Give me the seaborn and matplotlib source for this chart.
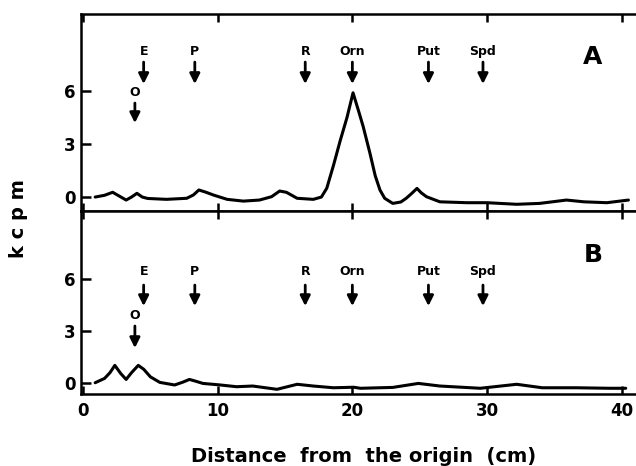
import matplotlib
matplotlib.use("Agg")
import matplotlib.pyplot as plt
import seaborn as sns

# Panel A: radioactivity trace (kcpm) vs distance from origin (cm)
dist_a = [0.9, 1.6, 2.2, 2.7, 3.2, 3.6, 4.0, 4.4, 4.8, 6.2, 7.7, 8.2, 8.6, 9.1, 9.7,
          10.7, 11.9, 13.1, 14.0, 14.6, 15.1, 15.5, 15.9, 17.1, 17.7, 18.1, 18.6,
          19.1, 19.6, 20.05, 20.45, 20.8, 21.3, 21.7, 22.05, 22.4, 23.0, 23.6, 24.0,
          24.4, 24.8, 25.1, 25.5, 26.5, 28.5, 30.0, 32.2, 33.9, 35.9, 37.2, 38.9, 40.5]
kcpm_a = [0.0, 0.1, 0.27, 0.05, -0.17, 0.0, 0.21, 0.0, -0.08, -0.13, -0.07, 0.12, 0.40,
          0.28, 0.11, -0.13, -0.23, -0.17, 0.02, 0.34, 0.27, 0.10, -0.07, -0.13, 0.0,
          0.5, 1.8, 3.2, 4.5, 5.9, 4.9, 4.0, 2.5, 1.2, 0.4, -0.07, -0.36, -0.28, -0.07,
          0.2, 0.49, 0.25, 0.02, -0.27, -0.32, -0.32, -0.41, -0.36, -0.17, -0.27, -0.32, -0.17]

# Panel B
dist_b = [0.9, 1.6, 2.0, 2.36, 2.8, 3.2, 3.6, 4.1, 4.5, 5.0, 5.7, 6.8, 7.4, 7.9, 8.4,
          8.9, 10.2, 11.4, 12.6, 14.4, 15.9, 17.1, 18.6, 20.1, 20.6, 23.0, 24.9, 26.5,
          29.5, 32.2, 34.1, 36.6, 39.1, 40.3]
kcpm_b = [0.02, 0.27, 0.6, 1.02, 0.55, 0.21, 0.6, 1.02, 0.8, 0.36, 0.04, -0.11, 0.05,
          0.21, 0.1, -0.02, -0.11, -0.21, -0.17, -0.36, -0.07, -0.17, -0.27, -0.24,
          -0.3, -0.25, -0.02, -0.17, -0.3, -0.07, -0.27, -0.27, -0.3, -0.3]

# standard markers (name, position in cm)
marker_names = ["O", "E", "P", "R", "Orn", "Put", "Spd"]
marker_pos = [3.85, 4.5, 8.3, 16.5, 20.0, 25.65, 29.7]

x_ticks = [0, 10, 20, 30, 40]
y_ticks = [0, 3, 6]

sns.set_style("ticks")
plt.rcParams["font.family"] = ["DejaVu Sans"]
plt.rcParams["font.weight"] = "bold"
for key in ["text.color", "axes.labelcolor", "xtick.color", "ytick.color", "axes.edgecolor"]:
    plt.rcParams[key] = "black"

fig = plt.figure(figsize=(6.36, 4.66), dpi=100)
# right spine sits just past the image edge (the scan is cropped there)
ax_a = fig.add_axes([0.1274, 0.5472, 0.8884, 0.4227])
ax_b = fig.add_axes([0.1274, 0.1545, 0.8884, 0.3927])

panels = [
    # ax, x, y, ylim, label row (label, tail, tip), O row, letter y
    (ax_a, dist_a, kcpm_a, (-0.79, 10.36), (8.26, 7.64, 6.40), (5.94, 5.32, 4.19), "A", 0.782),
    (ax_b, dist_b, kcpm_b, (-0.63, 9.92), (6.46, 5.65, 4.44), (3.92, 3.29, 2.02), "B", 0.76),
]

for ax, xs, ys, ylim, row, orow, letter, ly in panels:
    sns.lineplot(x=xs, y=ys, ax=ax, color="black", linewidth=2.2, sort=False)
    ax.set_xlim(-0.15, 41.81)
    ax.set_ylim(*ylim)
    ax.set_xticks(x_ticks)
    ax.set_yticks(y_ticks)
    ax.tick_params(axis="x", direction="in", length=6, width=1.8, top=True, bottom=True,
                   labelsize=12, pad=6)
    ax.tick_params(axis="y", direction="in", length=7, width=1.8, left=True, right=True,
                   labelsize=12, pad=4)
    for s in ax.spines.values():
        s.set_visible(True)
        s.set_linewidth(1.8)
        s.set_color("black")

    for name, pos in zip(marker_names, marker_pos):
        lab, tail, tip = orow if name == "O" else row
        ax.text(pos, lab, name, ha="center", va="center", fontsize=9, fontweight="bold")
        ax.annotate("", xy=(pos, tip), xytext=(pos, tail),
                    arrowprops=dict(arrowstyle="-|>,head_length=0.5,head_width=0.25",
                                    color="black", lw=2, mutation_scale=12,
                                    shrinkA=0, shrinkB=0))

    ax.text(0.906, ly, letter, transform=ax.transAxes, ha="center", va="center",
            fontsize=18, fontweight="bold")

ax_a.tick_params(axis="x", labelbottom=False)
ax_b.set_xlabel("Distance  from  the origin  (cm)", fontsize=14, fontweight="bold",
                labelpad=19)
fig.text(18 / 636, 0.532, "k c p m", rotation=90, ha="center", va="center",
         fontsize=14, fontweight="bold")

fig.savefig("out.png", dpi=100)
